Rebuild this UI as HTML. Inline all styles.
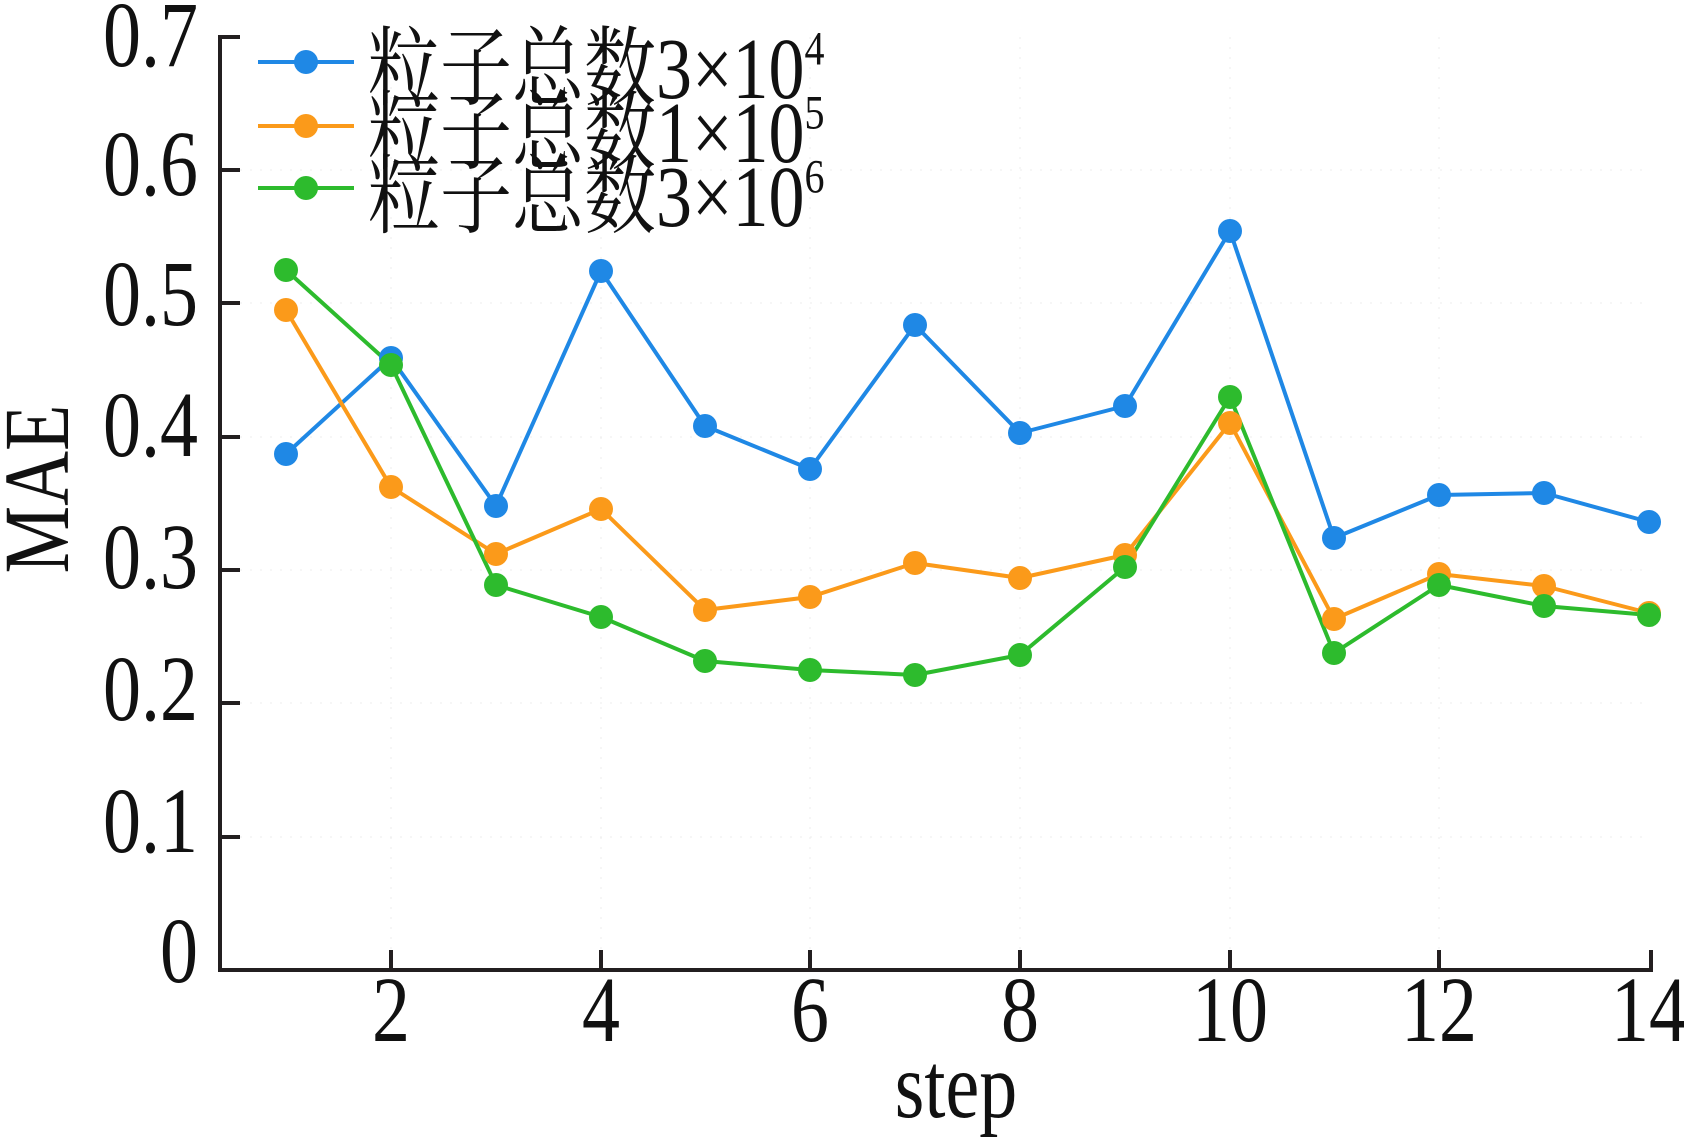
<!DOCTYPE html>
<html><head><meta charset="utf-8"><style>
html,body{margin:0;padding:0;background:#fff;}
svg{display:block;}
text{font-family:"Liberation Serif","Noto Serif CJK SC",serif;fill:#111;}
</style></head><body>
<svg width="1684" height="1141" viewBox="0 0 1684 1141" xmlns="http://www.w3.org/2000/svg">
<g stroke="#ececec" stroke-width="1" stroke-dasharray="2,8">
<line x1="220" y1="837" x2="1650" y2="837"/><line x1="220" y1="703" x2="1650" y2="703"/>
<line x1="220" y1="570" x2="1650" y2="570"/><line x1="220" y1="437" x2="1650" y2="437"/>
<line x1="220" y1="303" x2="1650" y2="303"/><line x1="220" y1="170" x2="1650" y2="170"/>
<line x1="391" y1="37" x2="391" y2="970"/><line x1="601" y1="37" x2="601" y2="970"/>
<line x1="810" y1="37" x2="810" y2="970"/><line x1="1020" y1="37" x2="1020" y2="970"/>
<line x1="1230" y1="37" x2="1230" y2="970"/><line x1="1439" y1="37" x2="1439" y2="970"/>
</g>
<g stroke="#231f20" stroke-width="4" fill="none">
<polyline points="240,37 220,37 220,970 1651,970 1651,950"/>
<line x1="220" y1="837" x2="240" y2="837"/><line x1="220" y1="703" x2="240" y2="703"/>
<line x1="220" y1="570" x2="240" y2="570"/><line x1="220" y1="437" x2="240" y2="437"/>
<line x1="220" y1="303" x2="240" y2="303"/><line x1="220" y1="170" x2="240" y2="170"/>
<line x1="391" y1="970" x2="391" y2="950"/><line x1="601" y1="970" x2="601" y2="950"/>
<line x1="810" y1="970" x2="810" y2="950"/><line x1="1020" y1="970" x2="1020" y2="950"/>
<line x1="1230" y1="970" x2="1230" y2="950"/><line x1="1439" y1="970" x2="1439" y2="950"/>
</g>
<g font-size="76" text-anchor="end">
<text transform="translate(198,982) scale(1,1.22)">0</text>
<text transform="translate(198,852) scale(1,1.22)">0.1</text>
<text transform="translate(198,720) scale(1,1.22)">0.2</text>
<text transform="translate(198,588) scale(1,1.22)">0.3</text>
<text transform="translate(198,456) scale(1,1.22)">0.4</text>
<text transform="translate(198,325) scale(1,1.22)">0.5</text>
<text transform="translate(198,195) scale(1,1.22)">0.6</text>
<text transform="translate(198,66) scale(1,1.22)">0.7</text>
</g>
<g font-size="76" text-anchor="middle">
<text transform="translate(391,1041) scale(1,1.22)">2</text>
<text transform="translate(601,1041) scale(1,1.22)">4</text>
<text transform="translate(810,1041) scale(1,1.22)">6</text>
<text transform="translate(1020,1041) scale(1,1.22)">8</text>
<text transform="translate(1230,1041) scale(1,1.22)">10</text>
<text transform="translate(1439,1041) scale(1,1.22)">12</text>
<text transform="translate(1649,1041) scale(1,1.22)">14</text>
<text transform="translate(956,1117) scale(1,1.22)">step</text>
<text transform="translate(68,489) rotate(-90) scale(1,1.22)">MAE</text>
</g>
<g fill="none" stroke-width="4" stroke-linejoin="round">
<polyline stroke="#1f88e5" points="286,454 391,358 496,506 601,271 705,426 810,469 915,325 1020,433 1125,406 1230,231 1334,538 1439,495 1544,493 1649,522"/>
<polyline stroke="#fb9a1a" points="286,310 391,487 496,554 601,509 705,610 810,597 915,563 1020,578 1125,555 1230,423 1334,619 1439,574 1544,586 1649,613"/>
<polyline stroke="#2dbb2d" points="286,270 391,365 496,585 601,617 705,661 810,670 915,675 1020,655 1125,567 1230,397 1334,653 1439,585 1544,606 1649,615"/>
</g>
<g fill="#1f88e5">
<circle cx="286" cy="454" r="12"/><circle cx="391" cy="358" r="12"/><circle cx="496" cy="506" r="12"/><circle cx="601" cy="271" r="12"/><circle cx="705" cy="426" r="12"/><circle cx="810" cy="469" r="12"/><circle cx="915" cy="325" r="12"/><circle cx="1020" cy="433" r="12"/><circle cx="1125" cy="406" r="12"/><circle cx="1230" cy="231" r="12"/><circle cx="1334" cy="538" r="12"/><circle cx="1439" cy="495" r="12"/><circle cx="1544" cy="493" r="12"/><circle cx="1649" cy="522" r="12"/>
</g>
<g fill="#fb9a1a">
<circle cx="286" cy="310" r="12"/><circle cx="391" cy="487" r="12"/><circle cx="496" cy="554" r="12"/><circle cx="601" cy="509" r="12"/><circle cx="705" cy="610" r="12"/><circle cx="810" cy="597" r="12"/><circle cx="915" cy="563" r="12"/><circle cx="1020" cy="578" r="12"/><circle cx="1125" cy="555" r="12"/><circle cx="1230" cy="423" r="12"/><circle cx="1334" cy="619" r="12"/><circle cx="1439" cy="574" r="12"/><circle cx="1544" cy="586" r="12"/><circle cx="1649" cy="613" r="12"/>
</g>
<g fill="#2dbb2d">
<circle cx="286" cy="270" r="12"/><circle cx="391" cy="365" r="12"/><circle cx="496" cy="585" r="12"/><circle cx="601" cy="617" r="12"/><circle cx="705" cy="661" r="12"/><circle cx="810" cy="670" r="12"/><circle cx="915" cy="675" r="12"/><circle cx="1020" cy="655" r="12"/><circle cx="1125" cy="567" r="12"/><circle cx="1230" cy="397" r="12"/><circle cx="1334" cy="653" r="12"/><circle cx="1439" cy="585" r="12"/><circle cx="1544" cy="606" r="12"/><circle cx="1649" cy="615" r="12"/>
</g>
<g stroke-width="4">
<line x1="258" y1="62" x2="354" y2="62" stroke="#1f88e5"/><circle cx="306" cy="62" r="12" fill="#1f88e5"/>
<line x1="258" y1="126" x2="354" y2="126" stroke="#fb9a1a"/><circle cx="306" cy="126" r="12" fill="#fb9a1a"/>
<line x1="258" y1="188" x2="354" y2="188" stroke="#2dbb2d"/><circle cx="306" cy="188" r="12" fill="#2dbb2d"/>
</g>
<g font-size="72">
<text transform="translate(368,98) scale(1,1.2)">粒子总数3×10<tspan font-size="40" dy="-28">4</tspan></text>
<text transform="translate(368,162) scale(1,1.2)">粒子总数1×10<tspan font-size="40" dy="-28">5</tspan></text>
<text transform="translate(368,226) scale(1,1.2)">粒子总数3×10<tspan font-size="40" dy="-28">6</tspan></text>
</g>
</svg>
</body></html>
